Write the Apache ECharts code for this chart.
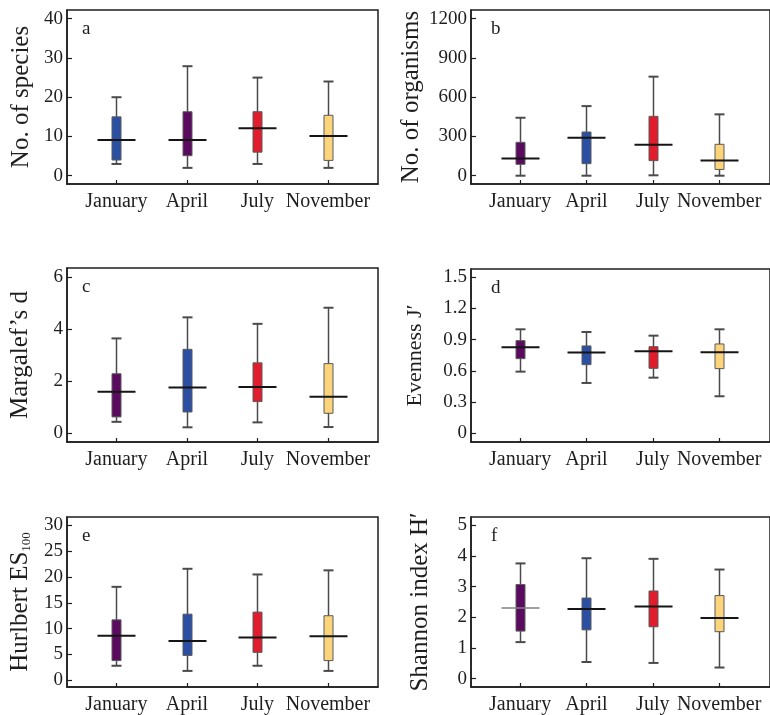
<!DOCTYPE html>
<html><head><meta charset="utf-8">
<script src="https://cdn.jsdelivr.net/npm/echarts@6/dist/echarts.min.js"></script>
<style>html,body{margin:0;padding:0;background:#fff}#c{width:770px;height:715px}</style>
</head><body><div id="c"></div>
<script>
const months = ['January', 'April', 'July', 'November'];
const monthPos = [1, 2, 3, 4];
// each row: [min, Q1, median, Q3, max] for January, April, July, November
const speciesBox   = [[3, 4, 9.1, 15, 20], [2, 5.1, 9.1, 16.3, 27.9], [3, 6, 12.1, 16.3, 25], [2, 3.9, 10.1, 15.4, 24]];
const organismsBox = [[0, 87, 132, 255, 443], [0, 92, 290, 334, 532], [3, 115, 237, 454, 757], [0, 48, 117, 240, 469]];
const margalefBox  = [[0.44, 0.63, 1.60, 2.29, 3.65], [0.23, 0.82, 1.76, 3.23, 4.46], [0.42, 1.22, 1.78, 2.71, 4.21], [0.24, 0.77, 1.41, 2.68, 4.83]];
const evennessBox  = [[0.593, 0.718, 0.827, 0.891, 1.0], [0.484, 0.66, 0.776, 0.84, 0.974], [0.535, 0.625, 0.788, 0.833, 0.939], [0.356, 0.622, 0.779, 0.859, 1.0]];
const hurlbertBox  = [[2.8, 3.8, 8.6, 11.7, 18.1], [1.8, 4.8, 7.6, 12.8, 21.6], [2.8, 5.4, 8.3, 13.2, 20.5], [1.8, 3.8, 8.5, 12.5, 21.3]];
const shannonBox   = [[1.19, 1.55, 2.30, 3.07, 3.76], [0.54, 1.59, 2.27, 2.63, 3.93], [0.51, 1.69, 2.35, 2.86, 3.91], [0.36, 1.53, 1.98, 2.71, 3.56]];

const speciesTicks   = [0, 10, 20, 30, 40];
const organismsTicks = [0, 300, 600, 900, 1200];
const margalefTicks  = [0, 2, 4, 6];
const evennessTicks  = [0, 0.3, 0.6, 0.9, 1.2, 1.5];
const hurlbertTicks  = [0, 5, 10, 15, 20, 25, 30];
const shannonTicks   = [0, 1, 2, 3, 4, 5];

const BLUE = '#2b4fa3', PURPLE = '#5a0a5f', RED = '#e11d2d', YELLOW = '#fcd47c';
const colorsA = [BLUE, PURPLE, RED, YELLOW];
const colorsRest = [PURPLE, BLUE, RED, YELLOW];

const FONT = '"Liberation Serif", "Times New Roman", serif';
const INK = '#1e1e1e';

const panels = [
  {letter: 'a', name: 'No. of species', data: speciesBox, ticks: speciesTicks, colors: colorsA,
   grid: {left: 67, top: 10, width: 311, height: 174}, x: [0.3, 4.71], y: [-2.11, 42.22], gap: 33, nameSize: 25},
  {letter: 'b', name: 'No. of organisms', data: organismsBox, ticks: organismsTicks, colors: colorsRest,
   grid: {left: 471, top: 10, width: 302, height: 174}, x: [0.26, 4.767], y: [-63.4, 1266.5], gap: 47, nameSize: 25},
  {letter: 'c', name: 'Margalef\u2019s d', data: margalefBox, ticks: margalefTicks, colors: colorsRest,
   grid: {left: 67, top: 268, width: 311, height: 174}, x: [0.3, 4.71], y: [-0.335, 6.358], gap: 34, nameSize: 25},
  {letter: 'd', name: 'Evenness J\u2032', data: evennessBox, ticks: evennessTicks, colors: colorsRest,
   grid: {left: 471, top: 269, width: 302, height: 173}, x: [0.26, 4.767], y: [-0.0837, 1.58], gap: 45, nameSize: 22},
  {letter: 'e', name: 'Hurlbert ES{s|100}', data: hurlbertBox, ticks: hurlbertTicks, colors: colorsRest,
   grid: {left: 67, top: 517, width: 311, height: 175}, x: [0.3, 4.71], y: [-1.32, 31.64], gap: 34, nameSize: 25},
  {letter: 'f', name: 'Shannon index H\u2032', data: shannonBox, ticks: shannonTicks, colors: colorsRest,
   grid: {left: 471, top: 517, width: 302, height: 175}, x: [0.26, 4.767], y: [-0.276, 5.276], gap: 38, nameSize: 25,
   thinMedian: [0]}
];

const option = {
  backgroundColor: '#fff',
  animation: false,
  grid: [], xAxis: [], yAxis: [], series: [], graphic: []
};

panels.forEach((p, i) => {
  option.grid.push(Object.assign({show: true, borderColor: INK, borderWidth: 1.5, backgroundColor: 'transparent'}, p.grid));
  option.xAxis.push({
    type: 'value', gridIndex: i, min: p.x[0], max: p.x[1],
    axisLine: {show: true, onZero: false, lineStyle: {color: INK, width: 1.5}},
    axisTick: {show: true, inside: true, length: 4, customValues: monthPos, lineStyle: {color: INK, width: 1.2}},
    axisLabel: {show: true, customValues: monthPos, margin: 8, fontSize: 20, fontFamily: FONT, color: INK,
      formatter: v => months[Math.round(v) - 1]},
    splitLine: {show: false}
  });
  option.yAxis.push({
    type: 'value', gridIndex: i, min: p.y[0], max: p.y[1],
    name: p.name, nameLocation: 'middle', nameRotate: 90, nameGap: p.gap,
    nameTextStyle: {fontSize: p.nameSize, fontFamily: FONT, color: INK,
      rich: {s: {fontSize: 13, fontFamily: FONT, color: INK, verticalAlign: 'bottom', padding: [10, 0, 0, 0]}}},
    axisLine: {show: true, onZero: false, lineStyle: {color: INK, width: 1.5}},
    axisTick: {show: true, inside: true, length: 5, customValues: p.ticks, lineStyle: {color: INK, width: 1.2}},
    axisLabel: {show: true, customValues: p.ticks, margin: 4, fontSize: 19, fontFamily: FONT, color: INK,
      formatter: v => String(v)},
    splitLine: {show: false}
  });
  const colors = p.colors;
  const thin = p.thinMedian || [];
  option.series.push({
    type: 'custom', xAxisIndex: i, yAxisIndex: i, clip: false,
    data: p.data.map((r, k) => [monthPos[k]].concat(r)),
    encode: {x: 0, y: [1, 2, 3, 4, 5]},
    renderItem: function (params, api) {
      const xv = api.value(0);
      const lo = api.coord([xv, api.value(1)]);
      const q1 = api.coord([xv, api.value(2)]);
      const md = api.coord([xv, api.value(3)]);
      const q3 = api.coord([xv, api.value(4)]);
      const hi = api.coord([xv, api.value(5)]);
      const cx = Math.round(lo[0]) + 0.5;
      const wc = '#4a4a4a';
      const isThin = thin.indexOf(params.dataIndex) >= 0;
      return {
        type: 'group',
        children: [
          {type: 'line', shape: {x1: cx, y1: hi[1], x2: cx, y2: lo[1]}, style: {stroke: wc, lineWidth: 1.5}},
          {type: 'line', shape: {x1: cx - 5, y1: hi[1], x2: cx + 5, y2: hi[1]}, style: {stroke: wc, lineWidth: 2}},
          {type: 'line', shape: {x1: cx - 5, y1: lo[1], x2: cx + 5, y2: lo[1]}, style: {stroke: wc, lineWidth: 2}},
          {type: 'rect', shape: {x: cx - 4.5, y: q3[1], width: 9, height: q1[1] - q3[1]},
           style: {fill: colors[params.dataIndex], stroke: '#5a5a5a', lineWidth: 1}},
          {type: 'line', shape: {x1: cx - 19, y1: md[1], x2: cx + 19, y2: md[1]},
           style: {stroke: isThin ? '#808080' : '#151515', lineWidth: isThin ? 1.5 : 2}}
        ]
      };
    }
  });
  option.graphic.push({
    type: 'text', left: p.grid.left + (i % 2 === 0 ? 15 : 20), top: p.grid.top + 10,
    style: {text: p.letter, fontSize: 19, fontFamily: FONT, fill: INK}
  });
});

const chart = echarts.init(document.getElementById('c'), null, {renderer: 'canvas'});
chart.setOption(option);
</script>
</body></html>
